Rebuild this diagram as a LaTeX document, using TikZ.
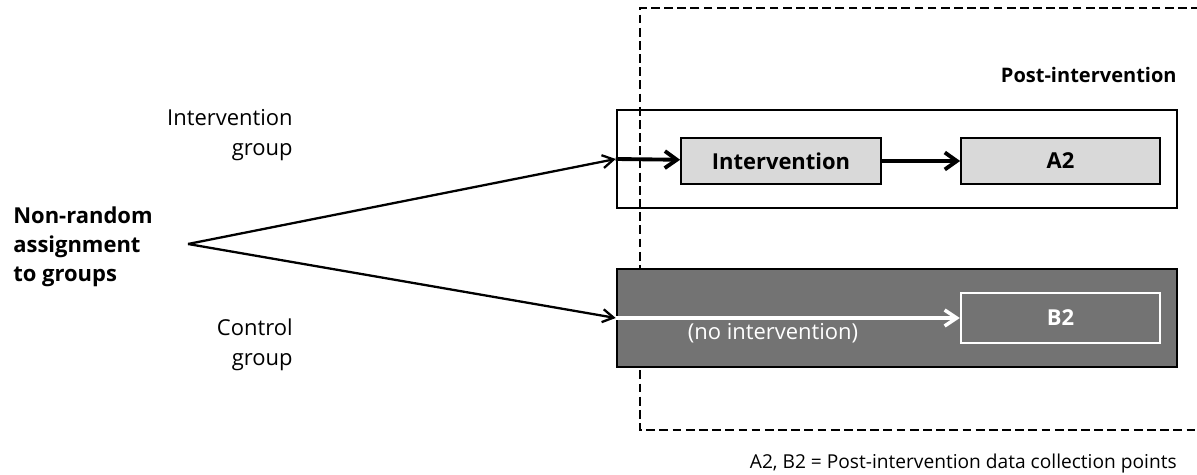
\documentclass[tikz,border=0pt]{standalone}
\usepackage{fontspec}
\setmainfont{Open Sans}
\usepackage{xcolor}
\usetikzlibrary{arrows.meta,positioning,calc}
\definecolor{boxgray}{HTML}{D9D9D9}
\definecolor{darkgray}{HTML}{737373}
\tikzset{
  label/.style={font=\fontsize{12.5}{17}\selectfont, align=right, inner sep=0pt},
  heading/.style={font=\fontsize{12.5}{16.5}\selectfont\bfseries, inner sep=0pt},
  groupbox/.style={draw, line width=1.5pt, minimum width=11.2cm, minimum height=1.96cm, inner sep=0pt},
  stagebox/.style={draw, line width=1pt, fill=boxgray, minimum width=4cm, minimum height=0.92cm, font=\fontsize{12.5}{15}\selectfont\bfseries, inner sep=0pt},
  fork/.style={-{Straight Barb[length=2.2mm, width=2.6mm]}, line width=1.3pt},
  line/.style={-{Straight Barb[length=2.4mm, width=3.4mm]}, line width=2.2pt},
  whiteline/.style={-{Straight Barb[length=2.4mm, width=3.2mm]}, line width=2pt, white}
}
\begin{document}
\begin{tikzpicture}[x=0.02cm, y=-0.02cm]
  \useasboundingbox (0,0) rectangle (1197,475);
  % post-intervention period
  \draw[dashed, line width=0.8pt, dash pattern=on 5pt off 2.5pt] (1200,8) -- (640,8) -- (640,430) -- (1200,430);
  \node[heading, anchor=east, font=\fontsize{11.4}{15}\selectfont\bfseries] (post) at (1177,75) {Post-intervention};
  % groups
  \node[groupbox] (ibox) at (897,159) {};
  \node[groupbox, fill=darkgray] (cbox) at (897,318) {};
  \node[stagebox] (interv) at (781,161) {Intervention};
  \node[stagebox, minimum width=3.98cm] (atwo) at (1060.5,161) {A2};
  \node[stagebox, minimum width=3.98cm, minimum height=1cm, fill=darkgray, draw=white, text=white, line width=1.4pt] (btwo) at (1060.5,318) {B2};
  \node[label, text=white, anchor=center] (noint) at (773,333) {(no intervention)};
  % labels on the left
  \node[heading, align=left, anchor=west] (assign) at (13,247) {Non-random\\assignment\\to groups};
  \coordinate (split) at (188,244);
  \node[label, anchor=east] (igrp) at (293,135) {Intervention\\group};
  \node[label, anchor=east] (cgrp) at (293,345) {Control\\group};
  % arrows
  \draw[fork] (split) -- (ibox.west);
  \draw[fork] (split) -- (cbox.west);
  \draw[line] (ibox.west) -- (interv);
  \draw[line] (interv) -- (atwo);
  \draw[whiteline] (cbox.west) -- (btwo);
  \node[label, anchor=east, font=\fontsize{10.9}{13}\selectfont] (note) at (1177,464) {A2, B2 = Post-intervention data collection points};
\end{tikzpicture}
\end{document}
